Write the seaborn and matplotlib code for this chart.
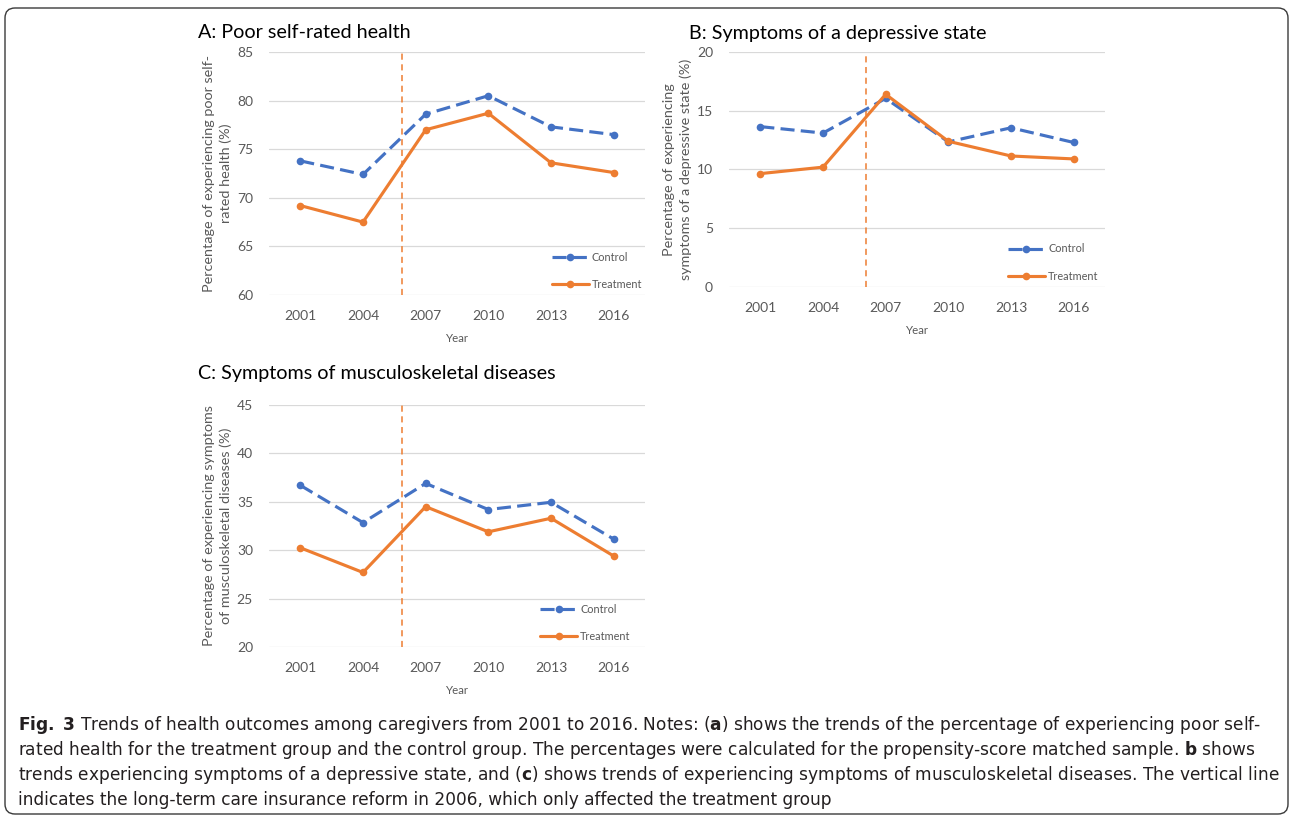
import numpy as np
import pandas as pd
import seaborn as sns
import matplotlib
matplotlib.use("Agg")
import matplotlib.pyplot as plt
from matplotlib import font_manager
from matplotlib.patches import FancyBboxPatch
from matplotlib.transforms import IdentityTransform

# ---------------- data ----------------
years = ["2001", "2004", "2007", "2010", "2013", "2016"]
a_control = [73.8, 72.4, 78.6, 80.5, 77.3, 76.5]
a_treatment = [69.2, 67.5, 77.0, 78.7, 73.6, 72.6]
b_control = [13.65, 13.1, 16.05, 12.35, 13.55, 12.3]
b_treatment = [9.65, 10.2, 16.4, 12.4, 11.15, 10.9]
c_control = [36.7, 32.85, 36.9, 34.2, 34.95, 31.15]
c_treatment = [30.25, 27.7, 34.5, 31.9, 33.3, 29.4]
reform_pos = [1.62, 1.69, 1.62]  # 2006 reform line (between 2004 and 2007)

titles = ["A: Poor self-rated health", "B: Symptoms of a depressive state",
          "C: Symptoms of musculoskeletal diseases"]
ylabels = ["Percentage of experiencing poor self-\nrated health (%)",
           "Percentage of experiencing\nsymptoms of a depressive state (%)",
           "Percentage of experiencing symptoms\nof musculoskeletal diseases (%)"]
ylims = [(60, 85), (0, 20), (20, 45)]
yticks = [[60, 65, 70, 75, 80, 85], [0, 5, 10, 15, 20], [20, 25, 30, 35, 40, 45]]

BLUE = "#4472C4"
ORANGE = "#ED7D31"
GRAY = "#595959"

sns.set_style("white")
plt.rcParams["font.family"] = ["Lato", "DejaVu Sans"]

names = {f.name for f in font_manager.fontManager.ttflist}
cap_family = "Liberation Sans Narrow" if "Liberation Sans Narrow" in names else "DejaVu Sans"
plt.rcParams["mathtext.fontset"] = "custom"
plt.rcParams["mathtext.rm"] = cap_family
plt.rcParams["mathtext.bf"] = f"{cap_family}:bold"

W, H = 1292, 818
fig = plt.figure(figsize=(W / 100, H / 100), dpi=100)

def px_axes(left, top, right, bottom):
    return fig.add_axes([left / W, 1 - bottom / H, (right - left) / W, (bottom - top) / H])

axA = px_axes(269, 52, 645, 295)
axB = px_axes(729, 52, 1105, 287)
axC = px_axes(269, 405, 645, 647)
axes = [axA, axB, axC]
series = [(a_control, a_treatment), (b_control, b_treatment), (c_control, c_treatment)]
legend_anchor = [(0.752, 0.10), (0.742, 0.104), (0.721, 0.099)]

for i, ax in enumerate(axes):
    ctrl, trt = series[i]
    df = pd.DataFrame({"Year": years, "Control": ctrl, "Treatment": trt})
    sns.lineplot(data=df, x="Year", y="Control", ax=ax, color=BLUE, lw=2.25,
                 linestyle=(0, (4.5, 2.0)), marker="o", markersize=5.5,
                 markeredgewidth=0, label="Control", sort=False)
    sns.lineplot(data=df, x="Year", y="Treatment", ax=ax, color=ORANGE, lw=2.25,
                 marker="o", markersize=5.5, markeredgewidth=0, label="Treatment",
                 sort=False)
    ax.axvline(reform_pos[i], color=ORANGE, lw=1.1, linestyle=(0, (4, 3)), zorder=1)
    ax.set_xlim(-0.5, 5.5)
    ax.set_ylim(*ylims[i])
    ax.set_yticks(yticks[i])
    ax.grid(axis="y", color="#D9D9D9", lw=0.9)
    ax.grid(axis="x", visible=False)
    for s in ax.spines.values():
        s.set_visible(False)
    ax.tick_params(axis="both", length=0, colors=GRAY, labelsize=10)
    ax.tick_params(axis="y", pad=11.5)
    ax.tick_params(axis="x", pad=11)
    ax.set_xlabel("Year", color=GRAY, fontsize=8.3, labelpad=8)
    ax.set_ylabel(ylabels[i], color=GRAY, fontsize=10.4, linespacing=1.45)
    ax.yaxis.set_label_coords(-0.098, 0.5)
    leg = ax.legend(loc="center left", bbox_to_anchor=legend_anchor[i], frameon=False,
                    fontsize=7.8, handlelength=3.4, handletextpad=0.3,
                    labelspacing=1.5, borderpad=0, borderaxespad=0)
    for t in leg.get_texts():
        t.set_color(GRAY)

fig.text(198 / W, 1 - 33 / H, titles[0], fontsize=14.2, va="center", ha="left", color="black")
fig.text(689 / W, 1 - 33 / H, titles[1], fontsize=14.2, va="center", ha="left", color="black")
fig.text(198 / W, 1 - 373 / H, titles[2], fontsize=14.2, va="center", ha="left", color="black")

caption = [
    r"$\bf{Fig.}$ $\bf{3}$ Trends of health outcomes among caregivers from 2001 to 2016. Notes: ($\bf{a}$) shows the trends of the percentage of experiencing poor self-",
    r"rated health for the treatment group and the control group. The percentages were calculated for the propensity-score matched sample. $\bf{b}$ shows",
    r"trends experiencing symptoms of a depressive state, and ($\bf{c}$) shows trends of experiencing symptoms of musculoskeletal diseases. The vertical line",
    r"indicates the long-term care insurance reform in 2006, which only affected the treatment group",
]
cap_y = [725, 750, 775, 800]
cap_texts = []
for line, y in zip(caption, cap_y):
    t = fig.text(18 / W, 1 - y / H, line, fontsize=12, va="center", ha="left",
                 color="#231F20", family=cap_family)
    cap_texts.append(t)

# scale caption so the widest line spans the reference text width
renderer = fig.canvas.get_renderer()
wmax = max(t.get_window_extent(renderer).width for t in cap_texts)
fs = 12 * (1262 / wmax)
for t in cap_texts:
    t.set_fontsize(fs)

box = FancyBboxPatch((5, 4), 1283, 806, boxstyle="round,pad=0,rounding_size=10",
                     transform=IdentityTransform(), fill=False, ec="#3A3A3A", lw=1.0)
fig.patches.append(box)

fig.savefig("out.png", dpi=100)
